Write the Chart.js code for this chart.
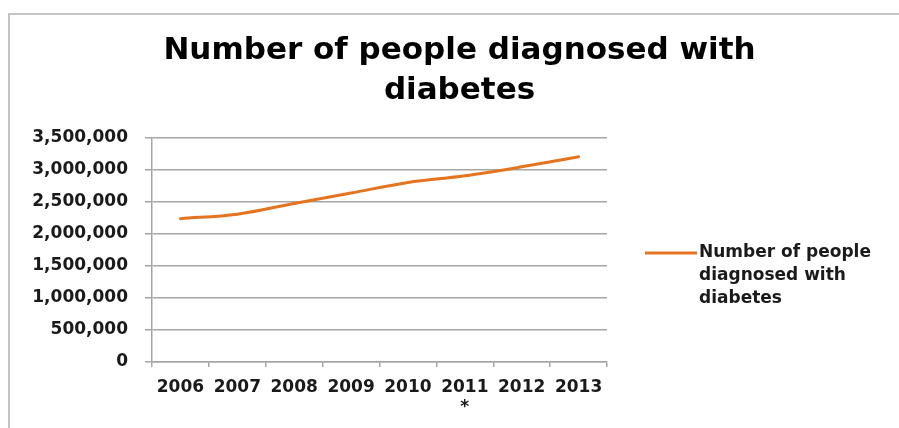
<!DOCTYPE html>
<html>
<head>
<meta charset="utf-8">
<title>Number of people diagnosed with diabetes</title>
<script src="https://cdn.jsdelivr.net/npm/chart.js@4"></script>
<style>
  html, body { margin: 0; padding: 0; background: #fff; overflow: hidden; }
  #wrap { position: relative; width: 899px; height: 428px; }
</style>
</head>
<body>
<div id="wrap"><canvas id="c" width="899" height="428"></canvas></div>
<script>
// Yearly counts of people diagnosed with diabetes
const years = ['2006', '2007', '2008', '2009', '2010', ['2011', '*'], '2012', '2013'];
const diagnosed = [2240000, 2310000, 2478000, 2640000, 2805000, 2910000, 3050000, 3207000];
const seriesName = 'Number of people diagnosed with diabetes';
const legendLines = ['Number of people', 'diagnosed with', 'diabetes'];
const titleLines = ['Number of people diagnosed with', 'diabetes'];
const yTicks = [0, 500000, 1000000, 1500000, 2000000, 2500000, 3000000, 3500000];

const FONT = '"DejaVu Sans", Verdana, sans-serif';
const GRID = '#a6a6a6';
const TEXT = '#1a1a1a';
const LINE = '#e4741f';

// Thin grey frame along the top and left edge of the chart
const frame = {
  id: 'frame',
  beforeDraw(chart) {
    const ctx = chart.ctx;
    ctx.save();
    ctx.fillStyle = '#fff';
    ctx.fillRect(0, 0, chart.width, chart.height);
    ctx.strokeStyle = '#c4c4c4';
    ctx.lineWidth = 2;
    ctx.beginPath();
    ctx.moveTo(9, chart.height);
    ctx.lineTo(9, 14);
    ctx.lineTo(chart.width, 14);
    ctx.stroke();
    ctx.restore();
  }
};

// Legend on the right, with its label wrapped over three lines
const sideLegend = {
  id: 'sideLegend',
  beforeInit(chart) {
    const box = {
      position: 'right',
      weight: 1000,
      fullSize: false,
      options: {},
      left: 0, top: 0, right: 0, bottom: 0, width: 0, height: 0,
      isHorizontal() { return false; },
      update(maxWidth, maxHeight) {
        this.width = 292;
        this.height = maxHeight;
      },
      draw() {
        const ctx = chart.ctx;
        const ds = chart.data.datasets[0];
        const cy = (this.top + this.bottom) / 2 + 3;
        ctx.save();
        ctx.strokeStyle = ds.borderColor;
        ctx.lineWidth = 3;
        ctx.beginPath();
        ctx.moveTo(this.left + 38, cy);
        ctx.lineTo(this.left + 90, cy);
        ctx.stroke();
        ctx.font = 'bold 17px ' + FONT;
        ctx.fillStyle = TEXT;
        ctx.textBaseline = 'middle';
        ctx.textAlign = 'left';
        legendLines.forEach((t, i) => ctx.fillText(t, this.left + 92, cy + i * 22.7));
        ctx.restore();
      }
    };
    Chart.layouts.addBox(chart, box);
  }
};

new Chart(document.getElementById('c'), {
  type: 'line',
  data: {
    labels: years,
    datasets: [{
      label: seriesName,
      data: diagnosed,
      borderColor: LINE,
      backgroundColor: LINE,
      borderWidth: 3,
      borderCapStyle: 'round',
      pointRadius: 0,
      pointHoverRadius: 0,
      tension: 0.35,
      fill: false
    }]
  },
  options: {
    responsive: false,
    animation: false,
    layout: { padding: { left: 20, right: 0, top: 0, bottom: 0 } },
    plugins: {
      legend: { display: false },
      tooltip: { enabled: false },
      title: {
        display: true,
        text: titleLines,
        color: '#000',
        font: { family: FONT, size: 31, weight: 'bold', lineHeight: 40 / 31 },
        padding: { top: 31, bottom: 27 }
      }
    },
    scales: {
      x: {
        offset: true,
        grid: {
          offset: true,
          drawOnChartArea: false,
          drawTicks: true,
          tickLength: 5,
          color: GRID,
          lineWidth: 1.5
        },
        border: { color: GRID, width: 1.5 },
        ticks: {
          color: TEXT,
          padding: 10,
          maxRotation: 0,
          autoSkip: false,
          font: { family: FONT, size: 17, weight: 'bold' }
        },
        afterFit(scale) { scale.height = 66; }
      },
      y: {
        min: 0,
        max: 3500000,
        afterBuildTicks(scale) { scale.ticks = yTicks.map(v => ({ value: v })); },
        grid: { color: GRID, lineWidth: 1.5, tickLength: 7 },
        border: { color: GRID, width: 1.5 },
        ticks: {
          color: TEXT,
          padding: 17,
          font: { family: FONT, size: 17, weight: 'bold' },
          callback: v => Number(v).toLocaleString('en-US')
        },
        afterFit(scale) { scale.width = 132; }
      }
    }
  },
  plugins: [frame, sideLegend]
});
</script>
</body>
</html>
